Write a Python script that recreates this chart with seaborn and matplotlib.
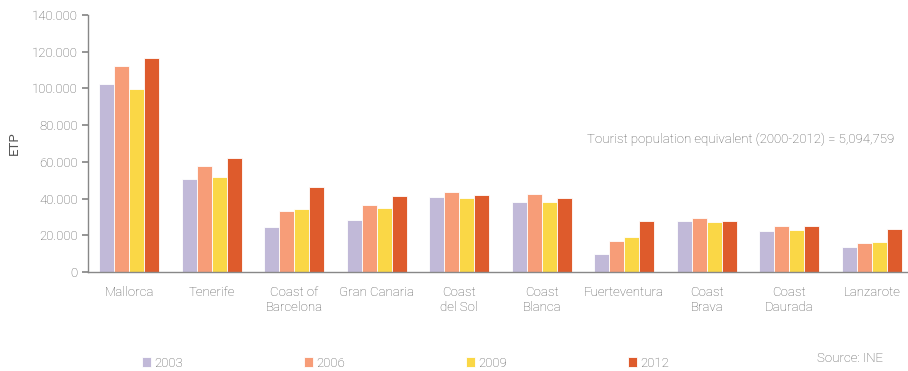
import matplotlib
matplotlib.use("Agg")
import matplotlib.pyplot as plt
import matplotlib.ticker as mticker
import seaborn as sns
import pandas as pd
import numpy as np

categories = ["Mallorca", "Tenerife", "Coast of\nBarcelona", "Gran Canaria", "Coast\ndel Sol",
              "Coast\nBlanca", "Fuerteventura", "Coast\nBrava", "Coast\nDaurada", "Lanzarote"]
years = ["2003", "2006", "2009", "2012"]
v2003 = [102400, 50600, 24500, 28300, 40800, 38100, 9800, 27800, 22300, 13600]
v2006 = [112200, 57700, 33200, 36500, 43500, 42500, 16900, 29400, 25100, 15800]
v2009 = [99700, 51700, 34300, 34800, 40300, 38100, 19100, 27200, 22900, 16300]
v2012 = [116600, 62100, 46300, 41400, 41900, 40300, 27800, 27800, 25100, 23400]
colors = ["#C1B9D8", "#F79D78", "#FAD746", "#DE5B2C"]
yticks = [0, 20000, 40000, 60000, 80000, 100000, 120000, 140000]

rows = []
for y, vals in zip(years, [v2003, v2006, v2009, v2012]):
    for c, v in zip(categories, vals):
        rows.append({"cat": c, "year": y, "val": v})
df = pd.DataFrame(rows)

sns.set_theme(style="white")
plt.rcParams['font.family'] = ['Roboto', 'DejaVu Sans']
plt.rcParams['font.weight'] = 'light'
txt = "#555555"

fig = plt.figure(figsize=(9.08, 3.71), dpi=100)
ax = fig.add_axes([88/908, 1 - 272/371, 1 - 88/908, (272 - 15)/371])
sns.barplot(data=df, x="cat", y="val", hue="year", palette=colors, order=categories,
            hue_order=years, width=0.73, edgecolor="white", linewidth=0.6, ax=ax,
            saturation=1, legend=True)

ax.set_ylim(0, 140000)
ax.set_xlim(-0.5, 9.44)
ax.set_yticks(yticks)
ax.yaxis.set_major_formatter(mticker.FuncFormatter(lambda v, p: "0" if v == 0 else f"{int(v):,}".replace(",", ".")))
ax.set_xlabel("")
ax.set_ylabel("ETP", color=txt, fontsize=9.5, labelpad=8)
for s in ["top", "right"]:
    ax.spines[s].set_visible(False)
for s in ["left", "bottom"]:
    ax.spines[s].set_color("#888888")
    ax.spines[s].set_linewidth(1.0)

ax.tick_params(axis="x", which="major", length=0, pad=10, labelsize=9.5, labelcolor=txt)
ax.set_xticks(np.arange(-0.5, 9.5, 1.0), minor=True)
ax.tick_params(axis="x", which="minor", length=4, color="#888888", direction="out")
ax.tick_params(axis="y", length=4, color="#888888", direction="out", labelsize=9.5, labelcolor=txt, left=True)

ax.text(9.27, 72000, "Tourist population equivalent (2000-2012) = 5,094,759", ha="right", va="center",
        fontsize=9.5, color=txt)

h, l = ax.get_legend_handles_labels()
ax.legend(h, l, loc="center", bbox_to_anchor=(0.387, -0.355), ncol=4, frameon=False,
          handlelength=0.7, handleheight=0.7, handletextpad=0.2, columnspacing=9.2,
          fontsize=9.5, labelcolor=txt)

fig.text(883/908, 1 - 358/371, "Source: INE", ha="right", va="center", fontsize=9.5, color=txt)

fig.savefig("out.png", dpi=100)
